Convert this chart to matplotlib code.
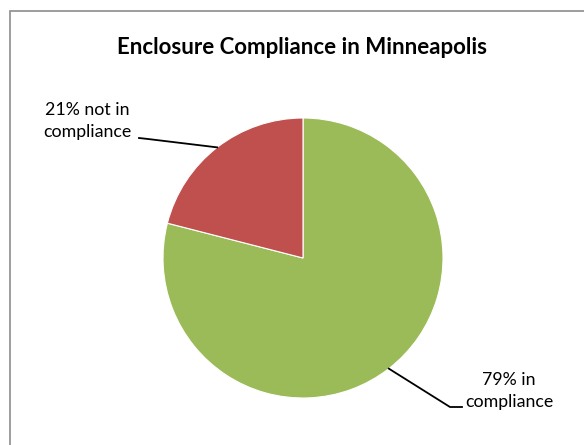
import numpy as np
import matplotlib.pyplot as plt
from matplotlib.patches import Rectangle

# chart data
labels = ["79% in\ncompliance", "21% not in\ncompliance"]
shares = [79, 21]
colors = ["#9BBB59", "#C0504D"]

W, H = 584, 445
plt.rcParams['font.family'] = ['Lato', 'DejaVu Sans']

fig = plt.figure(figsize=(W / 100, H / 100), dpi=100)
fig.patch.set_facecolor("white")

# chart frame (cropped on the right and bottom)
fig.patches.append(Rectangle((10 / W, -0.1), 1.2, 1 - 11 / H + 0.1, transform=fig.transFigure,
                             fill=False, edgecolor="#8c8c8c", linewidth=1.2))

fig.text(302 / W, 1 - 48 / H, "Enclosure Compliance in Minneapolis", ha="center", va="center",
         fontsize=16, fontweight="bold", color="black")

# pie axes: center (303, 258), radius 140 px
cx, cy, r = 303, 258, 140
ax = fig.add_axes([(cx - r) / W, 1 - (cy + r) / H, 2 * r / W, 2 * r / H])
wedges, _ = ax.pie(shares, colors=colors, startangle=90, counterclock=False, radius=1,
                   wedgeprops=dict(edgecolor="white", linewidth=0.8))
ax.set_xlim(-1, 1)
ax.set_ylim(-1, 1)
ax.axis("off")

# label positions and leader line elbows (pixels)
text_pos = [(509, 391), (87, 121)]
elbows = [[(450, 407), (462, 407)], [(148, 139), (139, 138)]]

for w, lab, tp, el in zip(wedges, labels, text_pos, elbows):
    mid = np.deg2rad((w.theta1 + w.theta2) / 2)
    px, py = cx + r * np.cos(mid), cy - r * np.sin(mid)
    xs = [px] + [p[0] for p in el]
    ys = [py] + [p[1] for p in el]
    fig.add_artist(plt.Line2D([x / W for x in xs], [1 - y / H for y in ys],
                              transform=fig.transFigure, color="black", linewidth=1.3))
    fig.text(tp[0] / W, 1 - tp[1] / H, lab, ha="center", va="center", fontsize=12.8,
             linespacing=1.4, color="black")

plt.savefig("out.png", dpi=100)
